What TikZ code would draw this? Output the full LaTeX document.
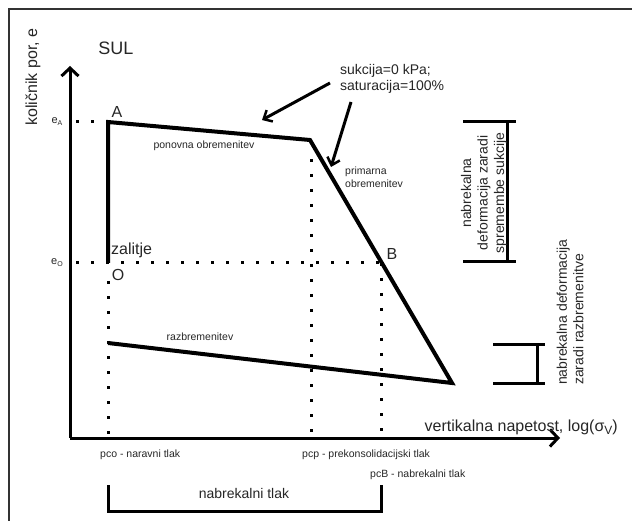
\documentclass[tikz,border=0pt]{standalone}
\usepackage{fontspec}
\setmainfont{Liberation Sans}
\usetikzlibrary{arrows.meta,positioning}
\tikzset{curve/.style={line width=4pt,line join=miter},
  axis/.style={line width=3pt,-{Straight Barb[length=8pt,width=17pt,line width=3pt]}},
  pointer/.style={line width=3pt,-{Straight Barb[length=7pt,width=13pt,line width=2.5pt]}},
  dots/.style={line width=3pt,dash pattern=on 3pt off 12pt},
  brace/.style={line width=3pt},
  txt/.style={text=black!85,inner sep=0pt},
  big/.style={txt,font=\fontsize{16}{18}\selectfont},
  mid/.style={txt,font=\fontsize{14}{16.5}\selectfont},
  small/.style={txt,font=\fontsize{10.5}{13}\selectfont}}

\begin{document}
\begin{tikzpicture}[x=1pt,y=-1pt]
    \useasboundingbox (0,0) rectangle (632,521);
    % frame
    \draw[line width=1.5pt,black!80] (9,521) -- (9,9) -- (632,9);

    % axes
    \coordinate (org) at (70,438);
    \coordinate (ytop) at (70,66);
    \coordinate (xend) at (560,438);
    \draw[axis] (org) -- (ytop);
    \draw[axis] (org) -- (xend);
    \node[big,rotate=90] (ylab) at (33,77) {količnik por, e};
    \node[txt,font=\fontsize{18}{20}\selectfont] (sul) at (116,48) {SUL};
    \node[big,anchor=east] (xlab) at (618,427) {vertikalna napetost, log(σ\raisebox{-3pt}{\fontsize{12}{12}\selectfont V})};

    % points of the path
    \coordinate (A) at (108,122);
    \coordinate (K) at (310,140);
    \coordinate (T) at (452,383);
    \coordinate (O) at (108,263);
    \coordinate (B) at (381,263);
    \coordinate (U) at (108,343);

    % dotted guides
    \coordinate (eAs) at (76,122);
    \coordinate (eOs) at (76,263);
    \coordinate (Kd) at (311,159);
    \coordinate (Kb) at (311,434);
    \coordinate (Ob) at (108,434);
    \coordinate (Od) at (108,281);
    \coordinate (Bb) at (381,434);
    \draw[dots] (eAs) -- (A);
    \draw[dots] (eOs) -- (B);
    \draw[dots] (Od) -- (Ob);
    \draw[dots] (Kd) -- (Kb);
    \draw[dots] (B) -- (Bb);

    \draw[curve] (O) -- (A) -- (K) -- (T) -- (U);

    \node[small,font=\fontsize{11}{12}\selectfont] (eA) at (57,122) {e\raisebox{-2pt}{\fontsize{7}{7}\selectfont A}};
    \node[small,font=\fontsize{11}{12}\selectfont] (eO) at (57,263) {e\raisebox{-2pt}{\fontsize{7}{7}\selectfont O}};
    \node[big] (Alab) at (117,112) {A};
    \node[big] (Blab) at (392,254) {B};
    \node[big] (Olab) at (118,275) {O};
    \node[big,anchor=west] (zal) at (111,250) {zalitje};
    \node[small] (pon) at (204,146) {ponovna obremenitev};
    \node[small,align=left,anchor=west] (prim) at (345,177) {primarna\\obremenitev};
    \node[small] (razb) at (200,337) {razbremenitev};

    % saturation note
    \node[mid,align=left,anchor=west] (sat) at (340,79) {sukcija=0 kPa;\\saturacija=100\%};
    \coordinate (p1) at (330,83);
    \coordinate (q1) at (262,120);
    \coordinate (p2) at (351,102);
    \coordinate (q2) at (331,167);
    \draw[pointer] (p1) -- (q1);
    \draw[pointer] (p2) -- (q2);

    % pressures
    \node[small,anchor=west] (pco) at (100,455) {pco - naravni tlak};
    \node[small,anchor=west] (pcp) at (302,455) {pcp - prekonsolidacijski tlak};
    \node[small,anchor=west] (pcB) at (370,475) {pcB - nabrekalni tlak};

    % bracket under the axis
    \coordinate (n1) at (108,485);
    \coordinate (n2) at (108,511);
    \coordinate (n3) at (381,511);
    \coordinate (n4) at (381,485);
    \draw[brace] (n1) -- (n2) -- (n3) -- (n4);
    \node[mid] (ntl) at (244,493) {nabrekalni tlak};

    % bracket for suction change
    \coordinate (s1) at (463,122);
    \coordinate (s2) at (516,122);
    \coordinate (s3) at (463,262);
    \coordinate (s4) at (516,262);
    \coordinate (s5) at (507,122);
    \coordinate (s6) at (507,262);
    \draw[brace] (s1) -- (s2);
    \draw[brace] (s3) -- (s4);
    \draw[brace] (s5) -- (s6);
    \node[mid,rotate=90,align=center] (suk) at (484,193) {nabrekalna\\deformacija zaradi\\spremembe sukcije};

    % bracket for unloading
    \coordinate (r1) at (493,345);
    \coordinate (r2) at (545,345);
    \coordinate (r3) at (493,383);
    \coordinate (r4) at (545,383);
    \coordinate (r5) at (537,345);
    \coordinate (r6) at (537,383);
    \draw[brace] (r1) -- (r2);
    \draw[brace] (r3) -- (r4);
    \draw[brace] (r5) -- (r6);
    \node[mid,rotate=90,align=left,anchor=west] (raz) at (570,385) {nabrekalna deformacija\\zaradi razbremenitve};
\end{tikzpicture}
\end{document}
